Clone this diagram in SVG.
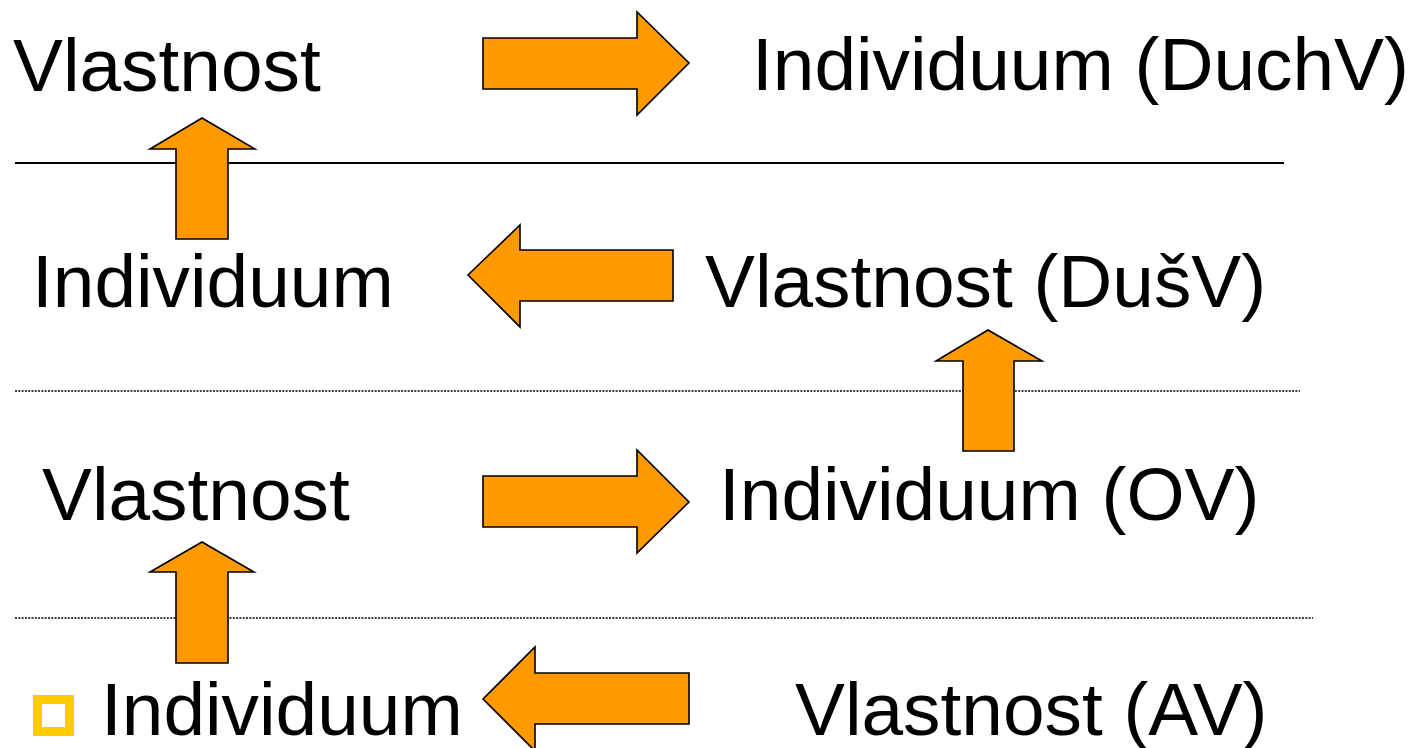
<svg xmlns="http://www.w3.org/2000/svg" width="1414" height="748" viewBox="0 0 1414 748">
<style>
.t{font-family:"Liberation Sans",Arial,sans-serif;font-size:74.8px;fill:#000}
.arr{fill:#FF9900;stroke:#000;stroke-width:1.6;stroke-linejoin:miter}
.sep{stroke:#000;stroke-width:2;fill:none}
.dot{stroke:#000;stroke-width:1.5;fill:none;stroke-dasharray:2 1.3}
</style>
<rect width="1414" height="748" fill="#fff"/>
<g id="separators">
<line class="sep" x1="15" y1="163" x2="1284" y2="163"/>
<line class="dot" x1="15" y1="391" x2="1300" y2="391"/>
<line class="dot" x1="15" y1="618" x2="1313" y2="618"/>
</g>
<g id="connectors">
<polygon class="arr" points="483,38 637,38 637,12 689,63 637,115 637,89 483,89"/>
<polygon class="arr" points="176,239 176,149 150,149 202,118 255,149 228,149 228,239"/>
<polygon class="arr" points="673,250 520,250 520,225 468,275 520,327 520,301 673,301"/>
<polygon class="arr" points="963,451 963,361 936,361 988,330 1042,361 1014,361 1014,451"/>
<polygon class="arr" points="483,476 637,476 637,450 689,502 637,553 637,527 483,527"/>
<polygon class="arr" points="176,663 176,572 150,572 202,542 254,572 228,572 228,663"/>
<polygon class="arr" points="689,673 535,673 535,647 483,699 535,751 535,724 689,724"/>
</g>
<g id="n-vlastnost-1"><text class="t" x="13" y="91">Vlastnost</text></g>
<g id="n-individuum-duchv"><text class="t" x="752" y="90">Individuum (DuchV)</text></g>
<g id="n-individuum-2"><text class="t" x="32" y="307">Individuum</text></g>
<g id="n-vlastnost-dusv"><text class="t" x="705" y="307">Vlastnost (DušV)</text></g>
<g id="n-vlastnost-3"><text class="t" x="42" y="520">Vlastnost</text></g>
<g id="n-individuum-ov"><text class="t" x="719" y="520">Individuum (OV)</text></g>
<g id="n-individuum-4">
<rect x="37.5" y="699.5" width="32" height="32" fill="none" stroke="#FFCC00" stroke-width="9"/>
<text class="t" x="101" y="735">Individuum</text>
</g>
<g id="n-vlastnost-av"><text class="t" x="795" y="735">Vlastnost (AV)</text></g>
</svg>
